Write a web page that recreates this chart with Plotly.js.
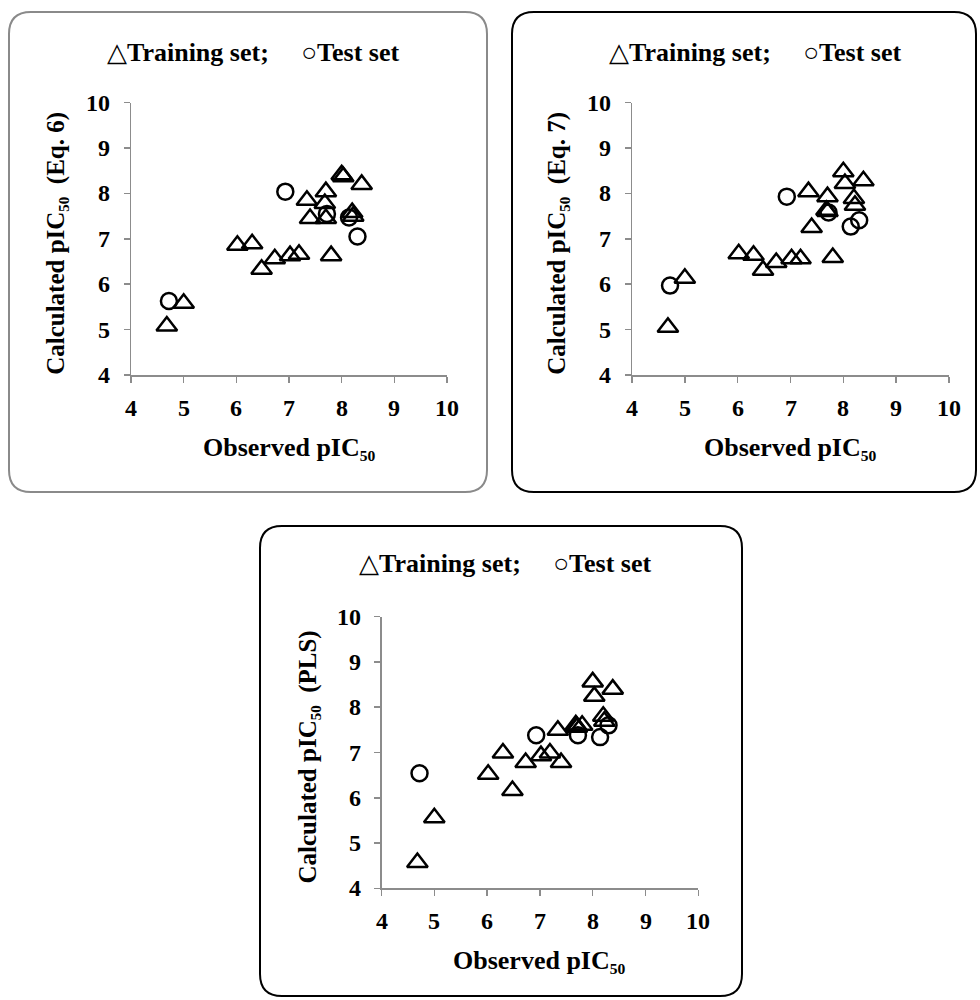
<!DOCTYPE html>
<html>
<head>
<meta charset="utf-8">
<script src="https://cdn.plot.ly/plotly-3.0.1.min.js"></script>
<style>html,body{margin:0;padding:0;background:#fff;}#chart{width:980px;height:1000px;}</style>
</head>
<body>
<div id="chart"></div>
<script>
// Observed pIC50 values
const trainObs = [4.68, 5.0, 6.02, 6.3, 6.48, 6.73, 7.02, 7.19, 7.34, 7.4, 7.68, 7.7, 7.7, 7.8, 8.0, 8.03, 8.2, 8.22, 8.38];
const testObs  = [4.72, 6.93, 7.72, 8.14, 8.3];
// Calculated pIC50, Eq. 6
const trainEq6 = [5.08, 5.58, 6.86, 6.89, 6.33, 6.56, 6.63, 6.66, 7.85, 7.45, 7.78, 8.04, 7.45, 6.63, 8.41, 8.37, 7.58, 7.5, 8.2];
const testEq6  = [5.63, 8.04, 7.55, 7.47, 7.05];
// Calculated pIC50, Eq. 7
const trainEq7 = [5.05, 6.13, 6.67, 6.64, 6.31, 6.48, 6.56, 6.56, 8.04, 7.25, 7.63, 7.93, 7.6, 6.59, 8.48, 8.22, 7.89, 7.74, 8.28];
const testEq7  = [5.97, 7.93, 7.58, 7.27, 7.41];
// Calculated pIC50, PLS
const trainPLS = [4.57, 5.56, 6.52, 6.99, 6.16, 6.78, 6.93, 6.99, 7.49, 6.78, 7.61, 7.56, 7.57, 7.6, 8.56, 8.24, 7.8, 7.69, 8.4];
const testPLS  = [6.54, 7.38, 7.38, 7.34, 7.6];
const tickVals = [4, 5, 6, 7, 8, 9, 10];
const tickLabels = ['4', '5', '6', '7', '8', '9', '10'];
const yTitles = ['Calculated pIC\u2085\u2080\u00a0\u00a0(Eq. 6)', 'Calculated pIC\u2085\u2080\u00a0\u00a0(Eq. 7)', 'Calculated pIC\u2085\u2080\u00a0\u00a0(PLS)'];
const xTitle = 'Observed pIC\u2085\u2080';
const legendText = '<span style="font-weight:normal;font-size:26px">\u25B3</span>Training set;\u00a0\u00a0\u00a0\u00a0\u00a0<span style="font-weight:normal;font-size:26px">\u25CB</span>Test set';

const W = 980, H = 1000;
const px = v => v / W;
const py = v => 1 - v / H;
const FONT = 'Liberation Serif';
const BOLD = (size) => ({family: FONT, size: size, color: '#000', weight: 'bold'});

const panels = [
  {l:131, r:447, t:102.7, b:375, box:[9,12,487,492], boxColor:'#8a8a8a', ytx:56, lgx:253, lgy:52, tr:trainEq6, te:testEq6},
  {l:632, r:949, t:102.7, b:375, box:[512,12,976,492], boxColor:'#000000', ytx:557, lgx:755, lgy:52, tr:trainEq7, te:testEq7},
  {l:381.5, r:698.3, t:616.7, b:888.3, box:[260,526,742,996], boxColor:'#000000', ytx:307, lgx:505, lgy:563, tr:trainPLS, te:testPLS}
];

function roundRect(x0,y0,x1,y1,rad){
  const X = v => px(v).toFixed(5), Y = v => py(v).toFixed(5);
  return 'M'+X(x0+rad)+','+Y(y0)+' L'+X(x1-rad)+','+Y(y0)+
    ' Q'+X(x1)+','+Y(y0)+' '+X(x1)+','+Y(y0+rad)+
    ' L'+X(x1)+','+Y(y1-rad)+
    ' Q'+X(x1)+','+Y(y1)+' '+X(x1-rad)+','+Y(y1)+
    ' L'+X(x0+rad)+','+Y(y1)+
    ' Q'+X(x0)+','+Y(y1)+' '+X(x0)+','+Y(y1-rad)+
    ' L'+X(x0)+','+Y(y0+rad)+
    ' Q'+X(x0)+','+Y(y0)+' '+X(x0+rad)+','+Y(y0)+' Z';
}

const data = [];
const layout = {
  width: W, height: H,
  margin: {l:0, r:0, t:0, b:0},
  paper_bgcolor: '#fff', plot_bgcolor: '#fff',
  showlegend: false,
  font: {family: FONT, color: '#000', size: 24},
  shapes: [], annotations: []
};

panels.forEach((p, i) => {
  const n = i === 0 ? '' : String(i + 1);
  data.push({
    x: trainObs, y: p.tr, type: 'scatter', mode: 'markers',
    xaxis: 'x' + n, yaxis: 'y' + n, cliponaxis: false,
    marker: {symbol: 'triangle-up-open', size: 18, color: '#000', line: {width: 2.5, color: '#000'}}
  });
  data.push({
    x: testObs, y: p.te, type: 'scatter', mode: 'markers',
    xaxis: 'x' + n, yaxis: 'y' + n, cliponaxis: false,
    marker: {symbol: 'circle-open', size: 16, color: '#000', line: {width: 2.5, color: '#000'}}
  });
  const mkAx = (extra) => Object.assign({
    range: [4, 10], tickmode: 'array', tickvals: tickVals.slice(),
    showticklabels: false,
    showgrid: false, zeroline: false, showline: true,
    linecolor: '#8c8c8c', linewidth: 1.5,
    ticks: 'outside', ticklen: 6, tickwidth: 1.5, tickcolor: '#8c8c8c',
    fixedrange: true
  }, extra);
  layout['xaxis' + n] = mkAx({domain: [px(p.l), px(p.r)], anchor: 'y' + n});
  layout['yaxis' + n] = mkAx({domain: [py(p.b), py(p.t)], anchor: 'x' + n});
  // tick labels, placed through the axes' own scales
  tickVals.forEach((v, k) => {
    layout.annotations.push({
      xref: 'paper', yref: 'y' + n, x: px(p.l - 19), y: v,
      xanchor: 'right', yanchor: 'middle', showarrow: false,
      text: tickLabels[k], font: BOLD(24)
    });
    layout.annotations.push({
      xref: 'x' + n, yref: 'paper', x: v, y: py(p.b + 33),
      xanchor: 'center', yanchor: 'middle', showarrow: false,
      text: tickLabels[k], font: BOLD(24)
    });
  });
  layout.shapes.push({
    type: 'path', xref: 'paper', yref: 'paper',
    path: roundRect(p.box[0], p.box[1], p.box[2], p.box[3], 22),
    line: {color: p.boxColor, width: 2}
  });
  layout.annotations.push({
    xref: 'paper', yref: 'paper', x: px(p.lgx), y: py(p.lgy),
    xanchor: 'center', yanchor: 'middle', showarrow: false,
    text: legendText, font: BOLD(26)
  });
  layout.annotations.push({
    xref: 'paper', yref: 'paper', x: px(p.ytx), y: py((p.t + p.b) / 2 + 5),
    xanchor: 'center', yanchor: 'middle', showarrow: false, textangle: -90,
    text: yTitles[i], font: BOLD(25)
  });
  layout.annotations.push({
    xref: 'paper', yref: 'paper', x: px((p.l + p.r) / 2), y: py(p.b + 72),
    xanchor: 'center', yanchor: 'middle', showarrow: false,
    text: xTitle, font: BOLD(26)
  });
});

Plotly.newPlot('chart', data, layout, {displayModeBar: false, staticPlot: true});
</script>
</body>
</html>
